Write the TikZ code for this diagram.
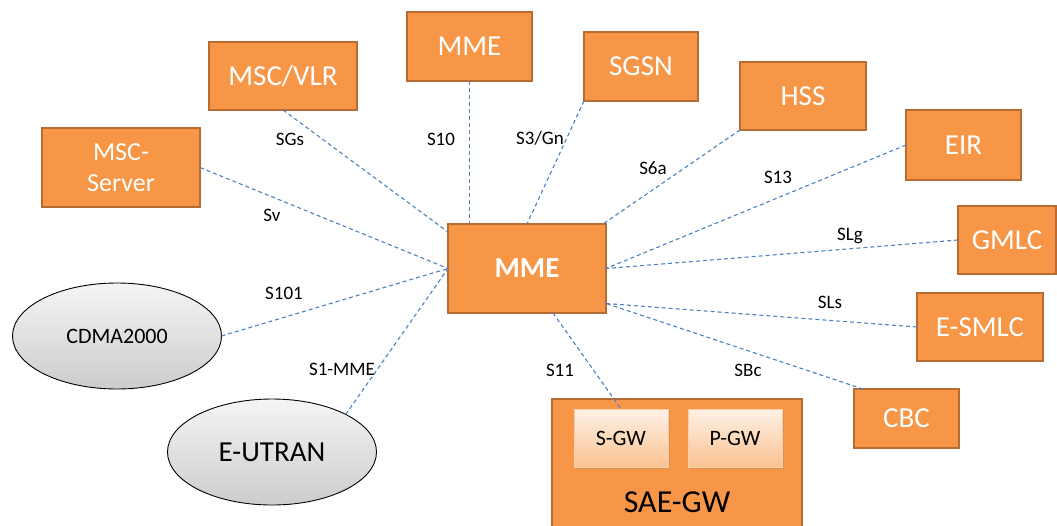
\documentclass[tikz,border=0pt]{standalone}
\usepackage{fontspec}
\setmainfont{Carlito}
\usetikzlibrary{shadows,calc}
\definecolor{boxfill}{HTML}{F79646}
\definecolor{boxedge}{HTML}{B66C33}
\definecolor{linkblue}{HTML}{4F81BD}
\definecolor{gwtop}{HTML}{FEF1E7}
\definecolor{gwbot}{HTML}{FAC291}
\tikzset{
  nf/.style={inner sep=0pt, outer sep=0pt, align=center, text=white,
    fill=boxfill, draw=boxedge, line width=2.4pt,
    font=\fontsize{29}{35}\selectfont},
  gwinner/.style={inner sep=0pt, outer sep=0pt, align=center, text=black,
    top color=gwtop, bottom color=gwbot, draw=gwbot!80!white, line width=0.6pt,
    drop shadow={shadow xshift=1.5pt, shadow yshift=-1.5pt, opacity=0.25},
    font=\fontsize{22}{26}\selectfont, minimum width=94pt, minimum height=58pt},
  cloud/.style={ellipse, inner sep=0pt, outer sep=0pt, draw=black, line width=0.9pt,
    top color=gray!8, bottom color=gray!40, minimum width=209pt, minimum height=106pt},
  link/.style={draw=linkblue, line width=1.1pt, dash pattern=on 4pt off 3pt},
  lbl/.style={inner sep=0pt, font=\fontsize{19}{22}\selectfont, text=black}
}
\usetikzlibrary{shapes.geometric}
\begin{document}
\begin{tikzpicture}[x=1pt, y=-1pt]
\useasboundingbox[fill=white] (0,0) rectangle (1057,525);

% network elements
\node[nf, minimum width=158pt, minimum height=79pt,
      font=\fontsize{26}{31.5}\selectfont] (mscs) at (121,167.5) {MSC-\\Server};
\node[nf, minimum width=148pt, minimum height=68pt] (vlr) at (283,76) {MSC/VLR};
\node[nf, minimum width=125pt, minimum height=69pt] (mme2) at (469.5,46.5) {MME};
\node[nf, minimum width=114pt, minimum height=69pt] (sgsn) at (641,66.5) {SGSN};
\node[nf, minimum width=126pt, minimum height=68pt] (hss) at (803,96) {HSS};
\node[nf, minimum width=115pt, minimum height=70pt] (eir) at (963.5,145) {EIR};
\node[nf, minimum width=98pt, minimum height=68pt] (gmlc) at (1007,240) {GMLC};
\node[nf, minimum width=126pt, minimum height=68pt] (esmlc) at (980,327) {E-SMLC};
\node[nf, minimum width=105pt, minimum height=59pt] (cbc) at (906.5,418.5) {CBC};
\node[nf, minimum width=158pt, minimum height=89pt,
      font=\fontsize{29}{35}\selectfont\bfseries] (mme) at (527,268.5) {MME};

% SAE gateway with its two inner gateways
\node[nf, minimum width=250pt, minimum height=136pt] (sae) at (677,467) {};
\node[text=black, inner sep=0pt, font=\fontsize{32}{38}\selectfont] (saelbl) at (677,502) {SAE-GW};
\node[gwinner] (sgw) at (621,438) {S-GW};
\node[gwinner] (pgw) at (735,438) {P-GW};

% access networks
\node[cloud, font=\fontsize{22}{26}\selectfont] (cdma) at (117,336) {CDMA2000};
\node[cloud, font=\fontsize{29}{35}\selectfont] (eutran) at (272,452) {E-UTRAN};

% interfaces
\draw[link] (vlr.south) -- ([yshift=-8pt]mme.north west);
\draw[link] (mme2.south) -- (mme2.south |- mme.north);
\draw[link] (sgsn.south west) -- (mme.north);
\draw[link] (hss.south west) -- ([xshift=-3pt]mme.north east);
\draw[link] (eir.west) -- (mme.east);
\draw[link] (gmlc.west) -- (mme.east);
\draw[link] (esmlc.west) -- ([yshift=-35pt]mme.east);
\draw[link] ([xshift=9pt]cbc.north west) -- ([yshift=-35pt]mme.east);
\draw[link] ([xshift=26pt]mme.south) -- (sgw.north);
\draw[link] (mscs.east) -- (mme.west);
\draw[link] (cdma.east) -- (mme.west);
\draw[link] (eutran.27) -- (mme.west);

% interface names
\node[lbl] (tSGs) at (290,139) {SGs};
\node[lbl] (tS10) at (441,139) {S10};
\node[lbl] (tS3) at (540,138) {S3/Gn};
\node[lbl] (tS6a) at (653,168) {S6a};
\node[lbl] (tS13) at (778,177) {S13};
\node[lbl] (tSLg) at (850,236) {SLg};
\node[lbl] (tSLs) at (830,302) {SLs};
\node[lbl] (tSBc) at (748,370) {SBc};
\node[lbl] (tS11) at (560,370) {S11};
\node[lbl] (tSv) at (272,215) {Sv};
\node[lbl] (tS101) at (284,293) {S101};
\node[lbl] (tS1) at (342,369) {S1-MME};
\end{tikzpicture}
\end{document}
